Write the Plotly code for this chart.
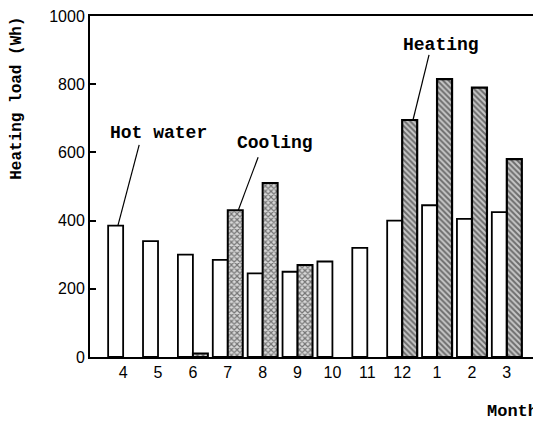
import plotly.graph_objects as go

months = ["4", "5", "6", "7", "8", "9", "10", "11", "12", "1", "2", "3"]
hot_water = [385, 340, 300, 285, 245, 250, 280, 320, 400, 445, 405, 425]
cooling = [None, None, 10, 430, 510, 270, None, None, None, None, None, None]
heating = [None, None, None, None, None, None, None, None, 695, 815, 790, 580]
y_ticks = [0, 200, 400, 600, 800, 1000]

xpos = list(range(len(months)))
W = 0.43
mono = "Liberation Mono, Courier New, monospace"
sans = "Liberation Sans, Arial, sans-serif"

fig = go.Figure()
fig.add_trace(go.Bar(x=xpos, y=hot_water, width=W, offset=-W, name="Hot water",
                     marker=dict(color="white", line=dict(color="black", width=1.8))))
fig.add_trace(go.Bar(x=xpos, y=cooling, width=W, offset=0, name="Cooling",
                     marker=dict(color="white", line=dict(color="black", width=2),
                                 pattern=dict(shape="x", size=4, solidity=0.5,
                                              fgcolor="#111", bgcolor="#d8d8d8"))))
fig.add_trace(go.Bar(x=xpos, y=heating, width=W, offset=0, name="Heating",
                     marker=dict(color="white", line=dict(color="black", width=2.2),
                                 pattern=dict(shape="\\", size=4, solidity=0.5,
                                              fgcolor="#111", bgcolor="#c8c8c8"))))

# leader lines
def leader(x0, y0, x1, y1):
    fig.add_shape(type="line", x0=x0, y0=y0, x1=x1, y1=y1, xref="x", yref="y",
                  line=dict(color="black", width=1.2))

leader(0.46, 622, -0.15, hot_water[0])
leader(3.87, 586, 3.30, cooling[3])
leader(8.77, 886, 8.31, heating[8])

def label(x, y, text):
    fig.add_annotation(x=x, y=y, text="<b>" + text + "</b>", showarrow=False,
                       xref="x", yref="y",
                       font=dict(family=mono, size=18, color="black"))

label(1.0, 657, "Hot water")
label(4.36, 628, "Cooling")
label(9.11, 915, "Heating")

fig.add_annotation(x=0.998, y=-0.16, xref="paper", yref="paper", text="<b>Month</b>",
                   showarrow=False, xanchor="right", yanchor="middle",
                   font=dict(family=mono, size=17, color="black"))
fig.add_annotation(x=-0.162, y=0.76, xref="paper", yref="paper",
                   text="<b>Heating load (Wh)</b>", textangle=-90, showarrow=False,
                   xanchor="center", yanchor="middle",
                   font=dict(family=mono, size=16, color="black"))

# the page adds an 8px body margin, so the figure is 8px smaller and shifted
fig.update_layout(
    width=533, height=415,
    margin=dict(l=82, r=0, t=8, b=66),
    paper_bgcolor="white", plot_bgcolor="white",
    barmode="overlay", showlegend=False,
    xaxis=dict(range=[-0.95, 11.98], tickvals=xpos, ticktext=months,
               showgrid=False, zeroline=False, showline=True, mirror=True,
               linecolor="black", linewidth=2, ticks="",
               tickfont=dict(family=sans, size=16, color="black")),
    yaxis=dict(range=[0, 1000], tickvals=y_ticks, showgrid=False, zeroline=False,
               showline=True, linecolor="black", linewidth=2,
               ticks="inside", ticklen=6, tickwidth=2, tickcolor="black",
               ticklabeloverflow="allow",
               tickfont=dict(family=sans, size=16, color="black")),
)

fig.write_html("out.html")
